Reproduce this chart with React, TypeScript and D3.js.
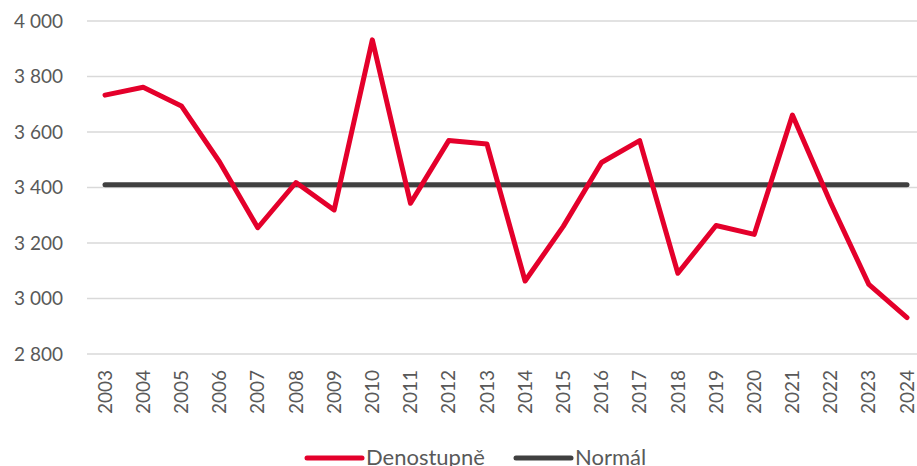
import React from 'react';
import * as d3 from 'd3';

// years on the x axis
const years = ['2003', '2004', '2005', '2006', '2007', '2008', '2009', '2010', '2011', '2012', '2013',
  '2014', '2015', '2016', '2017', '2018', '2019', '2020', '2021', '2022', '2023', '2024'];

// heating degree days per year
const denostupne = [3733, 3761, 3694, 3492, 3255, 3418, 3319, 3932, 3343, 3569, 3557,
  3063, 3260, 3490, 3569, 3091, 3263, 3231, 3661, 3345, 3051, 2931];

// long-term normal
const normal = years.map(() => 3410);

const yTicks = [2800, 3000, 3200, 3400, 3600, 3800, 4000];

const W = 917;
const H = 466;
const FONT = 'Lato, "Source Sans Pro", sans-serif';
const GREY = '#595959';

const fmt = (v: number) => d3.format(',')(v).replace(',', ' ');

const App = () => {
  const x = d3.scalePoint<string>()
    .domain(years)
    .range([105, 907]);

  const y = d3.scaleLinear()
    .domain([2800, 4000])
    .range([354, 21]);

  const line = d3.line<number>()
    .x((_, i) => x(years[i]) as number)
    .y(d => y(d));

  const legend = [
    { label: 'Denostupně', color: '#e4002b', x: 307 },
    { label: 'Normál', color: '#404040', x: 516 },
  ];

  return (
    <svg width={W} height={H} style={{ position: 'absolute', left: 0, top: 0, background: '#fff' }}
      fontFamily={FONT}>
      {/* gridlines */}
      {yTicks.map(t => (
        <line key={t} x1={87} x2={W} y1={y(t)} y2={y(t)} stroke="#d9d9d9" strokeWidth={1.5} />
      ))}
      {/* y labels */}
      {yTicks.map(t => (
        <text key={'l' + t} x={63} y={y(t)} dy="0.35em" textAnchor="end" fontSize={19} fill={GREY}>
          {fmt(t)}
        </text>
      ))}
      {/* x labels */}
      {years.map(yr => (
        <text key={yr} transform={`translate(${x(yr)},370) rotate(-90)`} textAnchor="end" dy="0.35em"
          fontSize={19} fill={GREY}>
          {yr}
        </text>
      ))}
      <path d={line(normal) ?? ''} fill="none" stroke="#404040" strokeWidth={5} strokeLinecap="round" />
      <path d={line(denostupne) ?? ''} fill="none" stroke="#e4002b" strokeWidth={5}
        strokeLinejoin="round" strokeLinecap="round" />
      {/* legend */}
      {legend.map(l => (
        <g key={l.label}>
          <line x1={l.x} x2={l.x + 55} y1={458} y2={458} stroke={l.color} strokeWidth={5} strokeLinecap="round" />
          <text x={l.x + 59} y={465} fontSize={22} fill={GREY}>{l.label}</text>
        </g>
      ))}
    </svg>
  );
};

export default App;
